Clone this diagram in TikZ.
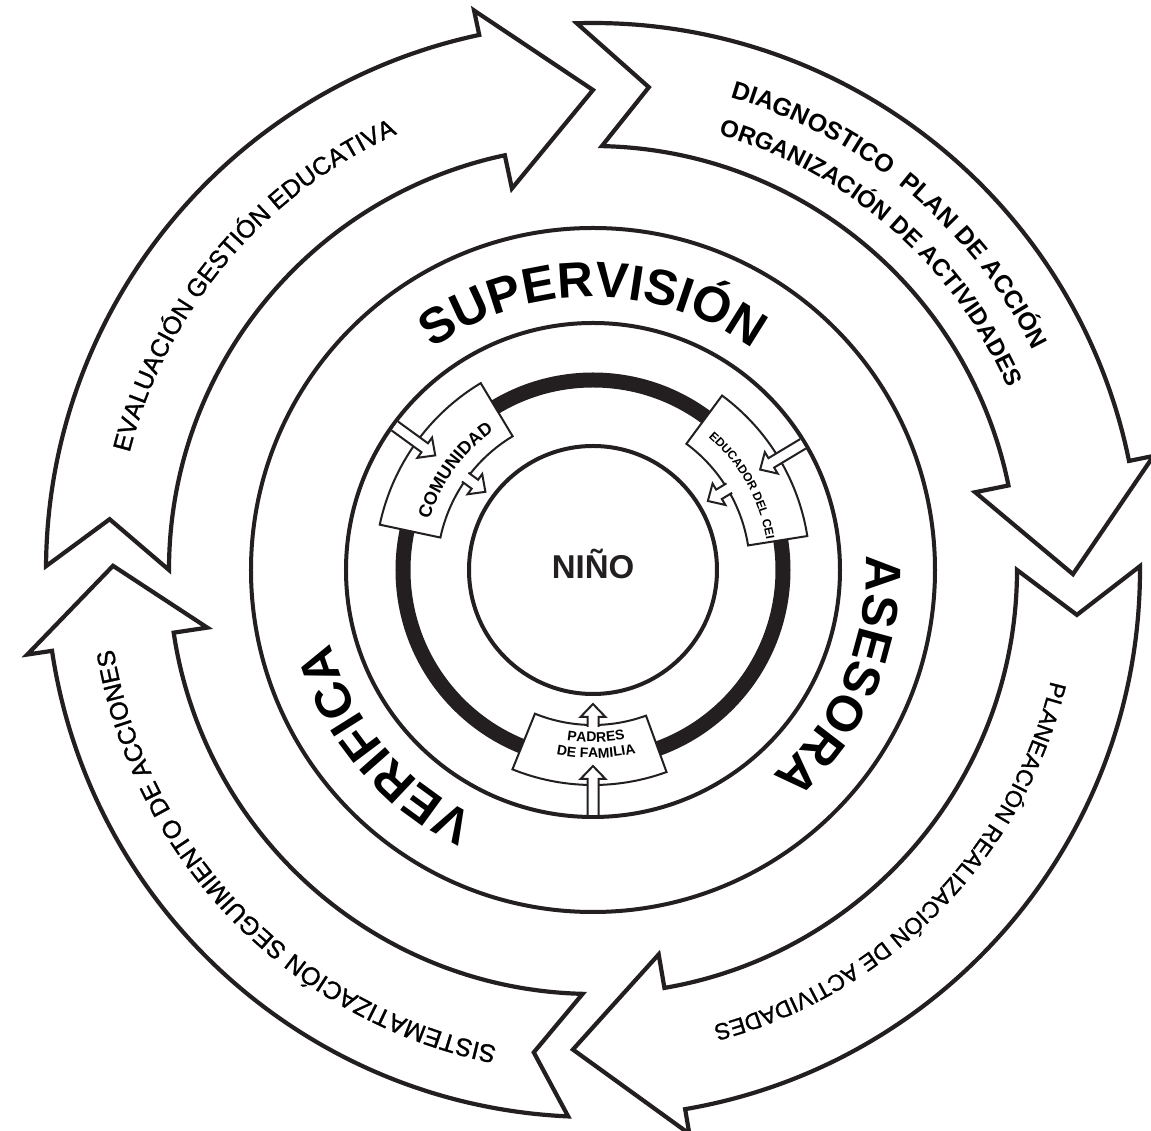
\documentclass[tikz,border=0pt]{standalone}
\usepackage{fontspec}
\setmainfont{Liberation Sans}
\newfontfamily\medsans[FakeBold=1.2]{Liberation Sans}
\usetikzlibrary{decorations.text}

\newcommand{\fbig}{\fontsize{50}{50}\selectfont\bfseries}
\newcommand{\fout}{\medsans\fontsize{25}{25}\selectfont}
\newcommand{\foutb}{\fontsize{25}{25}\selectfont\bfseries}
\newcommand{\foutc}{\fontsize{24}{24}\selectfont\bfseries}
\newcommand{\foutp}{\medsans\fontsize{23}{23}\selectfont}
\newcommand{\fcom}{\fontsize{18}{18}\selectfont\bfseries}
\newcommand{\fedu}{\fontsize{12}{12}\selectfont\bfseries}
\newcommand{\fpad}{\fontsize{14}{14}\selectfont\bfseries}

% big curved arrow: outer tail angle, inner tail angle, notch angle, head base angle, tip angle
\newcommand{\outerarrow}[5]{%
  \draw[bigarrow] (#1:547) arc[start angle=#1, end angle=#4, radius=547]
    -- (#4:572) -- (#5:480) -- (#4:390) -- (#4:424)
    arc[start angle=#4, end angle=#2, radius=424] -- (#3:486) -- cycle;
}
% clockwise text: centre angle, half span, radius, text
\newcommand{\cwtext}[4]{%
  \path[decorate, decoration={text along path, text align=center, text={#4}}]
    ({#1+#2}:#3) arc[start angle={#1+#2}, end angle={#1-#2}, radius=#3];
}
% counter-clockwise text
\newcommand{\ccwtext}[4]{%
  \path[decorate, decoration={text along path, text align=center, text={#4}}]
    ({#1-#2}:#3) arc[start angle={#1-#2}, end angle={#1+#2}, radius=#3];
}
% sector box: angle from, angle to, inner r, outer r
\newcommand{\sectorbox}[4]{%
  \draw[sectorline] (#1:#3) arc[start angle=#1, end angle=#2, radius=#3]
    -- (#2:#4) arc[start angle=#2, end angle=#1, radius=#4] -- cycle;
}
% small hollow arrow pointing to centre: angle, tail r, tip r
\newcommand{\smallarrow}[3]{%
  \begin{scope}[rotate=#1]
    \draw[smallarr] (#2,5.5) -- ({#3+13},5.5) -- ({#3+13},12.5) -- (#3,0)
      -- ({#3+13},-12.5) -- ({#3+13},-5.5) -- (#2,-5.5);
  \end{scope}
}

\definecolor{ink}{HTML}{231F20}
\tikzset{
  bigarrow/.style={draw=ink, line width=4.2pt, fill=white, line join=miter},
  thincircle/.style={draw=ink, line width=4pt},
  thickring/.style={draw=ink, line width=15pt},
  sectorline/.style={draw=ink, line width=2pt, fill=white, line join=miter},
  smallarr/.style={draw=ink, line width=2pt, fill=white, line join=miter},
}

\begin{document}
\begin{tikzpicture}[x=1pt, y=1pt]
  \useasboundingbox[fill=white] (-593,-561) rectangle (558,570);

  % outer cycle arrows
  \outerarrow{179.6}{180}{174}{102}{90}
  \outerarrow{91.7}{88.8}{83.4}{11.5}{-0.5}
  \outerarrow{0.4}{0}{-5.3}{-80.3}{-92.4}
  \outerarrow{-92.6}{-91.4}{-97}{-171.5}{-180.5}

  % concentric circles
  \draw[thincircle] (0,0) circle[radius=342];
  \draw[thincircle] (0,0) circle[radius=247];
  \draw[thickring] (0,0) circle[radius=190];
  \draw[thincircle] (0,0) circle[radius=124];

  % boxes on the ring
  \sectorbox{121}{168}{156}{218}
  \sectorbox{9}{53.5}{157}{217}
  \sectorbox{-112}{-70}{155}{215}

  % small hollow arrows
  \smallarrow{144}{245}{195}
  \smallarrow{144}{158}{133}
  \smallarrow{31}{245}{195}
  \smallarrow{31}{159}{134}
  \smallarrow{-90}{245}{196}
  \smallarrow{-90}{157}{134}

  % centre
  \node[font=\fontsize{33}{33}\selectfont\bfseries, anchor=base, inner sep=0pt, text=ink] (nino) at (0,-9) {NIÑO};

  % big words
  \cwtext{90}{60}{273}{|\fbig|SUPERVISIÓN}
  \cwtext{-23}{45}{273}{|\fbig|ASESORA}
  \cwtext{-140}{45}{273}{|\fbig|VERIFICA}

  % outer arrow texts
  \cwtext{140}{40}{478}{|\fout|EVALUACIÓN GESTIÓN EDUCATIVA}
  \cwtext{50.2}{40}{492}{|\foutb|DIAGNOSTICO {\kern7pt}PLAN DE ACCIÓN}
  \cwtext{48.8}{40}{453}{|\foutc|ORGANIZACIÓN DE ACTIVIDADES}
  \cwtext{-44.4}{45}{471}{|\foutp|PLANEACIÓN REALIZACIÓN DE ACTIVIDADES}
  \cwtext{-136}{50}{486}{|\fout|SISTEMATIZACIÓN SEGUIMIENTO DE ACCIONES}

  % box texts
  \cwtext{144.2}{30}{171}{|\fcom|COMUNIDAD}
  \cwtext{29.5}{40}{176}{|\fedu|EDUCADOR DEL CEI}
  \ccwtext{-89}{25}{172}{|\fpad|PADRES}
  \ccwtext{-89}{25}{188}{|\fpad|DE FAMILIA}
\end{tikzpicture}
\end{document}
